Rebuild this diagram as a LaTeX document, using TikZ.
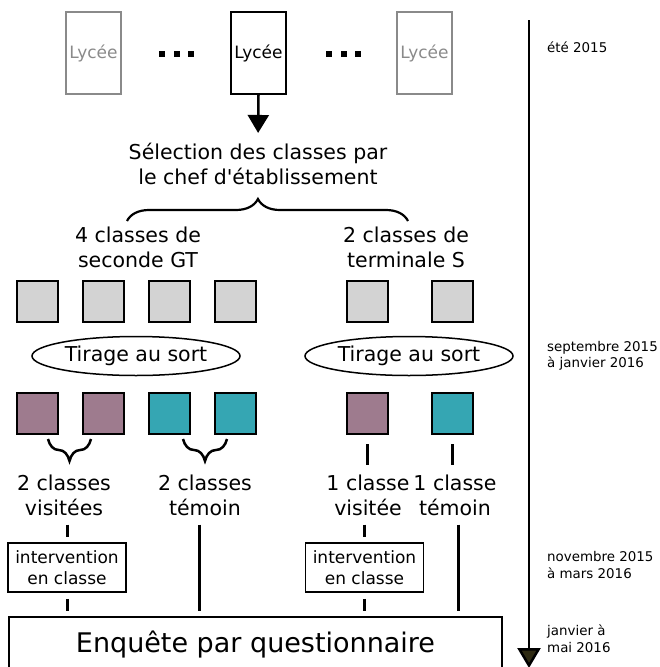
\documentclass[tikz,border=0pt]{standalone}
\usepackage{fontspec}
\setmainfont{DejaVu Sans}
\usetikzlibrary{shapes.geometric,arrows.meta,decorations.pathreplacing}
\definecolor{greyfill}{HTML}{D3D3D3}
\definecolor{visit}{HTML}{9E7B8E}
\definecolor{temoin}{HTML}{35A6B3}
\definecolor{lgrey}{HTML}{8A8A8A}
\definecolor{tipdark}{HTML}{2E2A12}
\begin{document}
\begin{tikzpicture}[x=1pt,y=-1pt,
  lyc/.style={draw, line width=2pt, minimum width=55pt, minimum height=82pt, inner sep=0pt, font=\fontsize{17}{20}\selectfont},
  sq/.style={draw, line width=2pt, minimum size=41pt, inner sep=0pt},
  big/.style={font=\fontsize{20.5}{25}\selectfont, align=center, inner sep=0pt},
  tir/.style={ellipse, draw, line width=1.5pt, minimum width=208pt, minimum height=39pt, inner sep=0pt, font=\fontsize{20.5}{25}\selectfont},
  intbox/.style={draw, line width=1.8pt, minimum width=118pt, minimum height=49pt, inner sep=0pt, align=center, font=\fontsize{17}{21}\selectfont},
  conn/.style={line width=3pt},
  when/.style={anchor=west, inner sep=0pt, align=left, font=\fontsize{13.4}{16.5}\selectfont},
  bigbrace/.style={decorate, decoration={brace, amplitude=22pt, aspect=0.466}, line width=2.2pt},
  smallbrace/.style={decorate, decoration={brace, amplitude=22pt}, line width=2.5pt},
  dotsq/.style={fill=black, minimum size=6pt, inner sep=0pt}
]
\useasboundingbox (0,0) rectangle (659,667);

% Lycées
\node[lyc, draw=lgrey, text=lgrey, line width=2.5pt] (ly1) at (93.5,53) {Lycée};
\node[lyc] (ly2) at (258.5,53) {Lycée};
\node[lyc, draw=lgrey, text=lgrey, line width=2.5pt] (ly3) at (424.5,53) {Lycée};
\node[dotsq] (d1) at (161.5,54) {};
\node[dotsq] (d2) at (176.5,54) {};
\node[dotsq] (d3) at (190.5,54) {};
\node[dotsq] (d4) at (329,54) {};
\node[dotsq] (d5) at (343.5,54) {};
\node[dotsq] (d6) at (358,54) {};

% Selection
\node[big] (sel) at (258,164) {Sélection des classes par\\le chef d\textquotesingle établissement};
\draw[line width=2.5pt, -{Triangle[width=21pt,length=18pt]}, shorten >=10pt] (ly2.south) -- (sel.north);
\draw[bigbrace] (127,221) -- (408,221);

% Groups
\node[big] (grpA) at (138,247.5) {4 classes de\\seconde GT};
\node[big] (grpB) at (406,247.5) {2 classes de\\terminale S};

% grey squares
\node[sq, fill=greyfill] (sA1) at (37.5,301) {};
\node[sq, fill=greyfill] (sA2) at (103.5,301) {};
\node[sq, fill=greyfill] (sA3) at (169.5,301) {};
\node[sq, fill=greyfill] (sA4) at (235.5,301) {};
\node[sq, fill=greyfill] (sB1) at (367.5,301) {};
\node[sq, fill=greyfill] (sB2) at (452,301) {};

% Tirage
\node[tir] (tirA) at (136,356) {Tirage au sort};
\node[tir] (tirB) at (409,356) {Tirage au sort};

% coloured squares
\node[sq, fill=visit] (cA1) at (37.5,413.5) {};
\node[sq, fill=visit] (cA2) at (103.5,413.5) {};
\node[sq, fill=temoin] (cA3) at (169.5,413.5) {};
\node[sq, fill=temoin] (cA4) at (235.5,413.5) {};
\node[sq, fill=visit] (cB1) at (367.5,413.5) {};
\node[sq, fill=temoin] (cB2) at (452,413.5) {};

\draw[smallbrace] (91,439) -- (48,439);
\draw[smallbrace] (227,439) -- (183,439);

% labels
\node[big] (labA1) at (64,495) {2 classes\\visitées};
\node[big] (labA2) at (205,495) {2 classes\\témoin};
\node[big] (labB1) at (368,495) {1 classe\\visitée};
\node[big] (labB2) at (455,495) {1 classe\\témoin};

\draw[conn, shorten <=9pt, shorten >=9pt] (cB1.south) -- (cB1.south |- labB1.north);
\draw[conn, shorten <=9pt, shorten >=9pt] (cB2.south) -- (cB2.south |- labB2.north);

% interventions
\node[intbox] (intA) at (67,567.5) {intervention\\en classe};
\node[intbox] (intB) at (364.5,567.5) {intervention\\en classe};

% Enquete
\node[draw, line width=2pt, minimum width=493pt, minimum height=56pt, inner sep=0pt, font=\fontsize{27}{32}\selectfont] (enq) at (255.5,645) {Enquête par questionnaire};

\draw[conn, shorten <=9pt, shorten >=5pt] (intA.north |- labA1.south) -- (intA.north);
\draw[conn, shorten <=6pt, shorten >=5pt] (intA.south) -- (intA.south |- enq.north);
\draw[conn, shorten <=9pt, shorten >=5pt] ([xshift=-6pt]labA2.south) -- ([xshift=-6pt]labA2.south |- enq.north);
\draw[conn, shorten <=9pt, shorten >=5pt] (intB.north |- labB1.south) -- (intB.north);
\draw[conn, shorten <=6pt, shorten >=5pt] (intB.south) -- (intB.south |- enq.north);
\draw[conn, shorten <=9pt, shorten >=5pt] ([xshift=3pt]labB2.south) -- ([xshift=3pt]labB2.south |- enq.north);

% timeline
\coordinate (tl0) at (529,20);
\coordinate (tl1) at (529,668);
\draw[line width=2.5pt, -{Triangle[width=23pt,length=20pt,fill=tipdark]}] (tl0) -- (tl1);
\node[when] (t1) at (547,47.5) {été 2015};
\node[when] (t2) at (547,356) {septembre 2015\\à janvier 2016};
\node[when] (t3) at (547,565) {novembre 2015\\à mars 2016};
\node[when] (t4) at (547,638.5) {janvier à\\mai 2016};
\end{tikzpicture}
\end{document}
